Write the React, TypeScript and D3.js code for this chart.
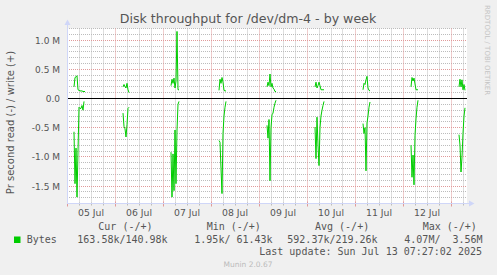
import React from "react";
import * as d3 from "d3";

// ---- data (values in MB/s, 30-minute samples; each burst starts at the given UTC time) ----
const burstStarts = [
  "2025-07-05T03:30:00Z",
  "2025-07-06T04:00:00Z",
  "2025-07-07T04:00:00Z",
  "2025-07-08T04:00:00Z",
  "2025-07-09T04:00:00Z",
  "2025-07-10T04:00:00Z",
  "2025-07-11T04:00:00Z",
  "2025-07-12T04:00:00Z",
  "2025-07-13T04:00:00Z",
];
const writeBursts = [
  [0.2, 0.36, 0.37, 0.39, 0.15, 0.14, 0.13, 0.13, 0.13, 0.12, 0.12, 0.12],
  [0.2, 0.24, 0.2, 0.18, 0.26, 0.15, 0.1],
  [0.22, 0.33, 0.26, 0.35, 0.18, 0.3, 1.15, 0.15, 0.15],
  [0.14, 0.33, 0.26, 0.36, 0.28, 0.14, 0.13, 0.13],
  [0.2, 0.28, 0.22, 0.42, 0.2, 0.26, 0.18, 0.16, 0.12, 0.12],
  [0.2, 0.28, 0.18, 0.22, 0.28, 0.22, 0.15, 0.15, 0.15, 0.15],
  [0.15, 0.26, 0.24, 0.32, 0.38, 0.18, 0.14, 0.13],
  [0.2, 0.36, 0.3, 0.35, 0.25, 0.15, 0.15, 0.15],
  [0.2, 0.33, 0.2, 0.32, 0.15, 0.24, 0.14],
];
const readBursts = [
  [-0.57, -1.46, -0.85, -1.69, -0.9, -0.15, -0.17, -0.17, -0.12, -0.2, -0.05],
  [-0.25, -0.48, -0.52, -0.66, -0.45, -0.17, -0.15],
  [-0.92, -1.69, -0.95, -1.58, -0.54, -1.46, -0.54, -0.1, -0.05],
  [-0.72, -0.75, -1.2, -1.63, -0.6, -0.3, -0.15, -0.05],
  [-0.46, -0.68, -0.36, -1.41, -0.5, -0.28, -0.25, -0.15, -0.08, -0.03],
  [-0.49, -1.03, -0.32, -0.8, -1.15, -0.5, -0.3, -0.2, -0.12, -0.05],
  [-0.43, -0.6, -0.5, -1.24, -0.42, -0.3, -0.15, -0.06],
  [-0.8, -1.35, -0.97, -1.48, -0.63, -0.35, -0.15, -0.03],
  [-0.62, -0.8, -1.26, -1.0, -0.6, -0.3, -0.16],
];
const yTickValues = [-1.5, -1.0, -0.5, 0.0, 0.5, 1.0];
const yTickLabels = ["-1.5 M", "-1.0 M", "-0.5 M", "0.0", "0.5 M", "1.0 M"];
const dayLabels = ["05 Jul", "06 Jul", "07 Jul", "08 Jul", "09 Jul", "10 Jul", "11 Jul", "12 Jul"];
const legendHeaders = ["Cur (-/+)", "Min (-/+)", "Avg (-/+)", "Max (-/+)"];
const legendValues = ["163.58k/140.98k", "1.95k/ 61.43k", "592.37k/219.26k", "4.07M/  3.56M"];
const seriesName = "Bytes";

const W = 497;
const H = 275;
const X0 = 67, X1 = 467, YT = 28.5, YB = 203.5;
const GREEN = "#00cc00";
const FONT = "#555555";
const AXIS = "#cfd6f8";

const tStart = new Date(Date.UTC(2025, 6, 5, 0, 0));
const tEnd = new Date(Date.UTC(2025, 6, 13, 8, 0));
const x = d3.scaleUtc().domain([tStart, tEnd]).range([X0, X1]);
const y = d3.scaleLinear().domain([-1.8, 1.2]).range([YB, YT]);
const STEP = 30 * 60 * 1000;

const crisp = (v: number) => Math.floor(v) + 0.5;
const pre = (s: string) => s.replace(/ /g, "\u00a0");

export default function App() {
  const line = d3
    .line<[number, number]>()
    .x((d) => x(new Date(d[0])))
    .y((d) => y(d[1]));

  const paths: string[] = [];
  burstStarts.forEach((s, i) => {
    const t0 = new Date(s).getTime();
    const w = writeBursts[i].map((v, k) => [t0 + k * STEP, v] as [number, number]);
    const r = readBursts[i].map((v, k) => [t0 + k * STEP, v] as [number, number]);
    paths.push(line(w) || "");
    paths.push(line(r) || "");
  });

  const minorY = d3.range(-18, 13).map((k) => k / 10).filter((v) => Math.abs(Math.round(v * 2) - v * 2) > 1e-6);
  const majorY = [-1.5, -1.0, -0.5, 0.5, 1.0];
  const hours = d3.utcHour.every(6)!.range(tStart, tEnd);
  const minorX = hours.filter((d) => d.getUTCHours() !== 0);
  const majorX = d3.utcDay.range(tStart, tEnd);
  const dayCenters = d3.utcDay.range(tStart, tEnd).map((d) => new Date(d.getTime() + 12 * 3600 * 1000));

  return (
    <svg width={W} height={H} style={{ display: "block", position: "absolute", left: 0, top: 0 }}>
      <rect x={0} y={0} width={W} height={H} fill="#f0f0f0" />
      <rect x={X0} y={YT} width={X1 - X0} height={YB - YT} fill="#ffffff" />
      {/* minor grid */}
      <g stroke="#bcbcbc" strokeWidth={1} strokeDasharray="1,1">
        {minorY.map((v, i) => (
          <line key={"my" + i} x1={X0} x2={X1} y1={crisp(y(v))} y2={crisp(y(v))} />
        ))}
        {minorX.map((d, i) => (
          <line key={"mx" + i} x1={crisp(x(d))} x2={crisp(x(d))} y1={YT} y2={YB} />
        ))}
      </g>
      {/* major grid */}
      <g stroke="#e09a9a" strokeWidth={1} strokeDasharray="1,1">
        {majorY.map((v, i) => (
          <line key={"My" + i} x1={X0} x2={X1} y1={crisp(y(v))} y2={crisp(y(v))} />
        ))}
        {majorX.map((d, i) => (
          <line key={"Mx" + i} x1={crisp(x(d))} x2={crisp(x(d))} y1={YT} y2={YB} />
        ))}
      </g>
      {/* x-axis ticks */}
      <g strokeWidth={1}>
        {minorX.map((d, i) => (
          <line key={"tx" + i} stroke="#bcbcbc" x1={crisp(x(d))} x2={crisp(x(d))} y1={YB - 1} y2={YB + 2} />
        ))}
        {majorX.map((d, i) => (
          <line key={"Tx" + i} stroke="#e09a9a" x1={crisp(x(d))} x2={crisp(x(d))} y1={YB - 2} y2={YB + 3} />
        ))}
      </g>
      {/* data */}
      <g fill="none" stroke={GREEN} strokeWidth={1}>
        {paths.map((p, i) => (
          <path key={"p" + i} d={p} />
        ))}
      </g>
      {/* zero line */}
      <line x1={X0} x2={X1} y1={crisp(y(0))} y2={crisp(y(0))} stroke="#000000" strokeWidth={1} />
      {/* axes */}
      <line x1={X0 + 0.5} x2={X0 + 0.5} y1={YB} y2={23} stroke={AXIS} />
      <path d={`M${X0 - 2.5},25 L${X0 + 0.5},19.5 L${X0 + 3.5},25 Z`} fill={AXIS} />
      <line x1={X0} x2={X1 + 4} y1={YB} y2={YB} stroke={AXIS} />
      <path d={`M${X1 + 2},${YB - 3} L${X1 + 7.5},${YB} L${X1 + 2},${YB + 3} Z`} fill={AXIS} />
      {/* y labels */}
      <g fontFamily="DejaVu Sans" fontSize={9} fill={FONT} textAnchor="end">
        {yTickValues.map((v, i) => (
          <text key={"yl" + i} x={60} y={crisp(y(v)) + 3.3}>
            {yTickLabels[i]}
          </text>
        ))}
      </g>
      {/* x labels */}
      <g fontFamily="DejaVu Sans" fontSize={9.3} fill={FONT} textAnchor="middle">
        {dayCenters.map((d, i) => (
          <text key={"xl" + i} x={x(d)} y={216}>
            {dayLabels[i]}
          </text>
        ))}
      </g>
      {/* title */}
      <text x={248} y={23} textAnchor="middle" fontFamily="DejaVu Sans" fontSize={12.6} fill={FONT}>
        Disk throughput for /dev/dm-4 - by week
      </text>
      {/* y axis title */}
      <text
        transform={`translate(13.5,122.5) rotate(-90)`}
        textAnchor="middle"
        fontFamily="DejaVu Sans"
        fontSize={10}
        fill={FONT}
      >
        Pr second read (-) / write (+)
      </text>
      {/* watermark */}
      <text
        transform={`translate(485,5) rotate(90)`}
        fontFamily="DejaVu Sans"
        fontSize={7}
        fill="#c4c4c4"
      >
        RRDTOOL / TOBI OETIKER
      </text>
      {/* legend */}
      <g fontFamily="DejaVu Sans Mono" fontSize={10} fill={FONT}>
        {legendHeaders.map((h, i) => (
          <text key={"lh" + i} x={[98.3, 206.7, 315, 422.7][i]} y={230}>
            {pre(h)}
          </text>
        ))}
        <rect x={14} y={236.5} width={6.5} height={6.5} fill={GREEN} />
        <text x={26.7} y={242.5}>
          {seriesName}
        </text>
        {legendValues.map((v, i) => (
          <text key={"lv" + i} x={[77.3, 194.3, 287.3, 404.3][i]} y={242.5}>
            {pre(v)}
          </text>
        ))}
        <text x={482} y={254.5} textAnchor="end">
          {pre("Last update: Sun Jul 13 07:27:02 2025")}
        </text>
      </g>
      <text x={248} y={266.5} textAnchor="middle" fontFamily="DejaVu Sans" fontSize={7.5} fill="#bbbbbb">
        Munin 2.0.67
      </text>
    </svg>
  );
}
